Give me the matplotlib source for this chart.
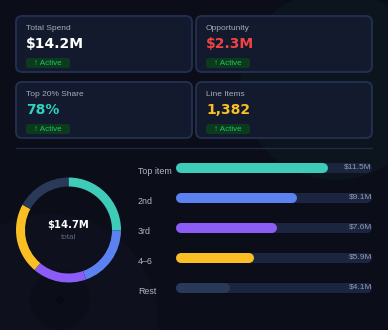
import matplotlib
matplotlib.use('Agg')
import matplotlib.pyplot as plt
from matplotlib.patches import FancyBboxPatch, Circle

# KPI cards
kpi_labels = ['Total Spend', 'Opportunity', 'Top 20% Share', 'Line Items']
kpi_values = ['$14.2M', '$2.3M', '78%', '1,382']
kpi_colors = ['#ffffff', '#ef4444', '#2dd4bf', '#fbbf24']
badge_text = '↑ Active'

# ranked spend bars ($M)
bar_labels = ['Top item', '2nd', '3rd', '4–6', 'Rest']
bar_values = [11.5, 9.1, 7.6, 5.9, 4.1]
bar_colors = ['#3ecbb8', '#5b82f0', '#8b5cf6', '#fbbf24', '#2a3958']
bar_max = 14.8

# donut shares ($M)
donut_values = [3.7, 2.85, 2.45, 3.2, 2.5]
donut_colors = ['#3ecbb8', '#5b82f0', '#8b5cf6', '#fbbf24', '#2a3958']
donut_total = '$14.7M'

BG = '#0b0d18'
W, H = 388, 330

fig = plt.figure(figsize=(W / 100, H / 100), dpi=100)
fig.patch.set_facecolor(BG)

# background layer in pixel coordinates
bg = fig.add_axes([0, 0, 1, 1])
bg.set_xlim(0, W)
bg.set_ylim(H, 0)
bg.axis('off')

# faint decorative circles
bg.add_patch(Circle((335, 85), 95, facecolor='#2dd4bf', alpha=0.035, lw=0, zorder=0))
bg.add_patch(Circle((50, 322), 108, facecolor='#6b7cc0', alpha=0.035, lw=0, zorder=0))
bg.add_patch(Circle((60, 300), 30, facecolor='#000000', alpha=0.15, lw=0, zorder=0))
bg.add_patch(Circle((60, 300), 4, facecolor='#000000', alpha=0.2, lw=0, zorder=0))

# cards
card_w, card_h = 176, 56
card_pos = [(16, 16), (196, 16), (16, 82), (196, 82)]
for (x, y), lab, val, col in zip(card_pos, kpi_labels, kpi_values, kpi_colors):
    bg.add_patch(FancyBboxPatch((x, y), card_w, card_h,
                                boxstyle='round,pad=0,rounding_size=6',
                                facecolor='#131a2d', edgecolor='#233152', lw=1.3, zorder=2))
    bg.text(x + 10, y + 13, lab, color='#a3acc0', fontsize=6,
            family='Liberation Sans', va='center', ha='left', zorder=3)
    bg.text(x + 10, y + 28.5, val, color=col, fontsize=10, fontweight='bold',
            va='center', ha='left', zorder=3)
    bg.add_patch(FancyBboxPatch((x + 10, y + 42), 44, 10,
                                boxstyle='round,pad=0,rounding_size=3',
                                facecolor='#0c3a1f', edgecolor='none', zorder=3))
    bg.text(x + 32, y + 47.3, badge_text, color='#22c55e', fontsize=5.8,
            family=['Liberation Sans', 'DejaVu Sans'], va='center', ha='center', zorder=4)

# divider
bg.plot([16, 372], [148, 148], color='#1f2a45', lw=1, zorder=2)

# donut
cx, cy, r = 68.5, 230, 52.5
dax = fig.add_axes([(cx - r) / W, 1 - (cy + r) / H, 2 * r / W, 2 * r / H])
dax.pie(donut_values, colors=donut_colors, startangle=90, counterclock=False,
        radius=1, wedgeprops=dict(width=9 / r, edgecolor='none'))
dax.set_xlim(-1, 1)
dax.set_ylim(-1, 1)
dax.set_aspect('auto')
dax.axis('off')
dax.text(0, 0.1, donut_total, color='#ffffff', fontsize=7.2, fontweight='bold',
         ha='center', va='center')
dax.text(0, -0.15, 'total', color='#5d6882', fontsize=5.8,
         family='Liberation Sans', ha='center', va='center')

# bars
bx0, bx1 = 176, 372
bax = fig.add_axes([bx0 / W, 1 - 303 / H, (bx1 - bx0) / W, 150 / H])
bax.set_xlim(0, bar_max)
bax.set_ylim(len(bar_values) - 0.5, -0.5)
bax.axis('off')
cap = 5 / (bx1 - bx0) * bar_max  # half bar height in data units
lw = 10 * 72 / 100
for i, (lab, v, col) in enumerate(zip(bar_labels, bar_values, bar_colors)):
    bax.plot([cap, bar_max - cap], [i, i], color='#1c2540', lw=lw,
             solid_capstyle='round', zorder=1)
    bax.plot([cap, v - cap], [i, i], color=col, lw=lw,
             solid_capstyle='round', zorder=2)
    bax.text(-38 / (bx1 - bx0), i + 0.13, lab, transform=bax.get_yaxis_transform(),
             color='#aeb7ca', fontsize=6.4, family='Liberation Sans',
             ha='left', va='center')
    bax.text(1.0, i - 0.03, f'${v}M', transform=bax.get_yaxis_transform(),
             color='#8f99ae', fontsize=6, family='Liberation Sans',
             ha='right', va='center', zorder=3)

fig.savefig('out.png', dpi=100, facecolor=BG)
